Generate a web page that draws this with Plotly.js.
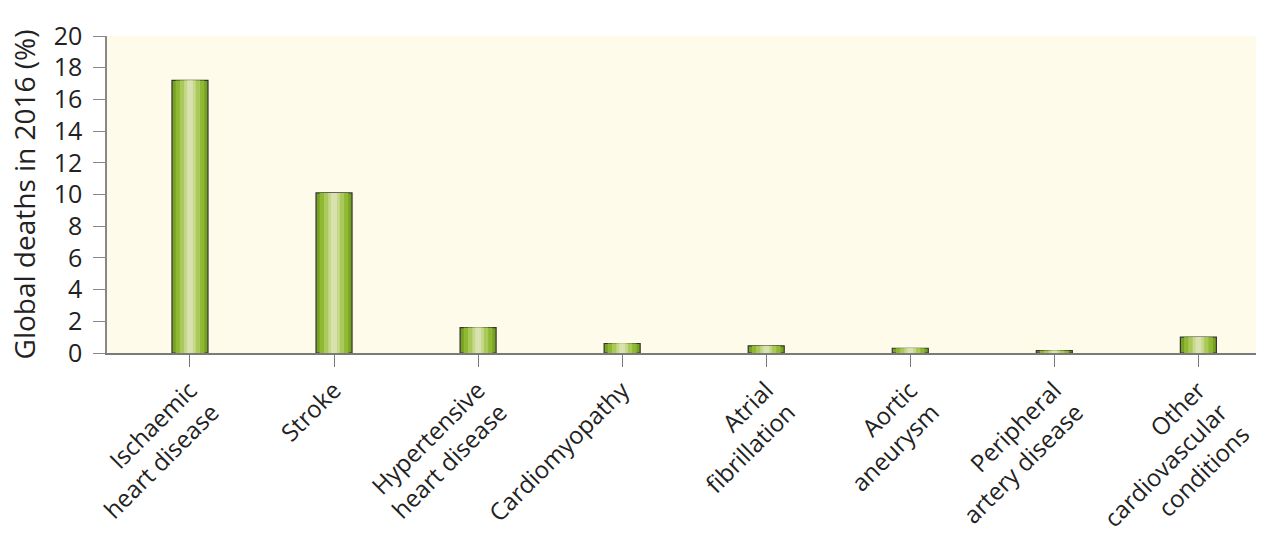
<!DOCTYPE html>
<html>
<head>
<meta charset="utf-8">
<script src="https://cdn.plot.ly/plotly-3.0.1.min.js"></script>
<style>
  body { margin: 0; background: #fff; }
  #chart { width: 1278px; height: 552px; }
</style>
</head>
<body>
<div id="chart"></div>
<script>
// causes of cardiovascular death, share of global deaths in 2016 (%)
var causes = ["Ischaemic<br>heart disease", "Stroke", "Hypertensive<br>heart disease", "Cardiomyopathy",
              "Atrial<br>fibrillation", "Aortic<br>aneurysm", "Peripheral<br>artery disease",
              "Other<br>cardiovascular<br>conditions"];
var deaths = [17.2, 10.1, 1.6, 0.6, 0.45, 0.3, 0.15, 1.0];

// the bars get a shiny look by stacking narrower, lighter copies on top
var shades = [
  {w: 0.25, c: '#76a122'},
  {w: 0.20, c: '#8fb933'},
  {w: 0.14, c: '#abc95a'},
  {w: 0.08, c: '#c6d88b'},
  {w: 0.04, c: '#d8e2b0'}
];

var data = shades.map(function (s, i) {
  return {
    x: causes,
    y: deaths,
    type: 'bar',
    width: s.w,
    marker: {color: s.c, line: {color: i === 0 ? '#333' : s.c, width: i === 0 ? 1.2 : 0}},
    hoverinfo: i === 0 ? 'x+y' : 'skip',
    showlegend: false
  };
});

var layout = {
  width: 1278,
  height: 552,
  barmode: 'overlay',
  margin: {l: 107, r: 22, t: 36, b: 199},
  paper_bgcolor: '#ffffff',
  plot_bgcolor: '#fefbeb',
  font: {family: 'Open Sans, sans-serif', color: '#222'},
  xaxis: {
    range: [-0.576, 7.4],
    showline: true,
    linecolor: '#7a7a7a',
    linewidth: 1.5,
    ticks: 'outside',
    ticklen: 12,
    tickcolor: '#777',
    tickangle: -45,
    tickfont: {size: 24, color: '#222'},
    showgrid: false
  },
  yaxis: {
    range: [0, 20],
    dtick: 2,
    showline: true,
    linecolor: '#888',
    linewidth: 1.5,
    ticks: 'outside',
    ticklen: 12,
    tickcolor: '#888',
    ticklabelstandoff: 6,
    tickfont: {size: 25, color: '#222'},
    showgrid: false,
    zeroline: false,
    title: {text: 'Global deaths in 2016 (%)', font: {size: 28, color: '#222'}, standoff: 10}
  }
};

Plotly.newPlot('chart', data, layout, {displayModeBar: false});
</script>
</body>
</html>
